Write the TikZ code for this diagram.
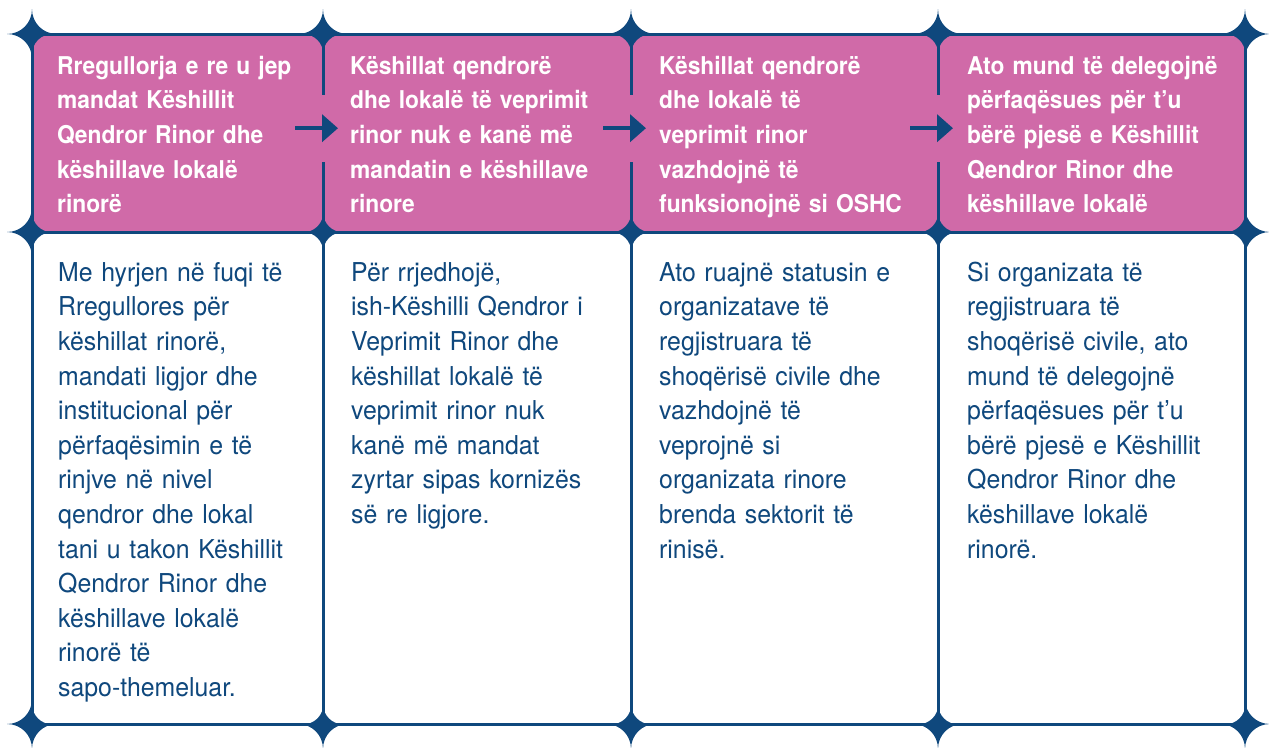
\documentclass[tikz,border=0pt]{standalone}
\usepackage{fontspec}
\setmainfont{TeX Gyre Heros}[UprightFeatures={FakeStretch=0.955},BoldFeatures={FakeStretch=0.93}]
\usetikzlibrary{arrows.meta}
\definecolor{navy}{RGB}{15,72,125}
\definecolor{rosa}{RGB}{208,106,168}

\begin{document}
\begin{tikzpicture}[x=1pt,y=-1pt,
    sparkle/.pic={\fill[navy] (25,0) .. controls (11,0) and (0,11) .. (0,25)
      .. controls (0,11) and (-11,0) .. (-25,0) .. controls (-11,0) and (0,-11) .. (0,-25)
      .. controls (0,-11) and (11,0) .. cycle;},
    cell/.style={anchor=north west,inner sep=0pt,rounded corners=20pt,minimum height=#1},
    headcell/.style={cell=198pt,fill=rosa},
    bodycell/.style={cell=492pt,fill=white},
    txt/.style={anchor=north west,inner sep=0pt,text height=0pt,align=left,text width=275pt},
    headtext/.style={txt,text=white,font=\bfseries\fontsize{24.5}{34.6}\selectfont},
    bodytext/.style={txt,text=navy,font=\fontsize{26}{34.6}\selectfont},
    frame/.style={navy,line width=3pt},
    flow/.style={navy,line width=4.5pt,-{Triangle[length=16pt,width=27pt]}}]
    \useasboundingbox (0,0) rectangle (1269,747);

    % stars at the crossings
    \foreach \x in {32,323,631,938,1245}
      \foreach \y in {34,232,724}
        \pic at (\x,\y) {sparkle};

    % cells
    \node[headcell,minimum width=291pt] (h1) at (32,34) {};
    \node[headcell,minimum width=308pt] (h2) at (323,34) {};
    \node[headcell,minimum width=307pt] (h3) at (631,34) {};
    \node[headcell,minimum width=307pt] (h4) at (938,34) {};
    \node[bodycell,minimum width=291pt] (b1) at (32,232) {};
    \node[bodycell,minimum width=308pt] (b2) at (323,232) {};
    \node[bodycell,minimum width=307pt] (b3) at (631,232) {};
    \node[bodycell,minimum width=307pt] (b4) at (938,232) {};

    % frame
    \draw[frame] (h1.north west) -- (h4.north east);
    \draw[frame] (b1.north west) -- (b4.north east);
    \draw[frame] (b1.south west) -- (b4.south east);
    \draw[frame] (h1.north west) -- (b1.south west);
    \draw[frame] (h4.north east) -- (b4.south east);
    \foreach \n/\m in {1/2,2/3,3/4} {
      \draw[frame] (h\n.north east) -- ([yshift=-61pt]h\n.north east);
      \draw[frame] ([yshift=-128pt]h\n.north east) -- (b\n.south east);
      \draw[flow] ([xshift=-28pt,yshift=5pt]h\n.east) -- ([xshift=15pt,yshift=5pt]h\m.west);
    }

    % texts
    \node[headtext] (th1) at ([shift={(25,40)}]h1.north west)
      {Rregullorja e re u jep\\mandat Këshillit\\Qendror Rinor dhe\\këshillave lokalë\\rinorë};
    \node[headtext] (th2) at ([shift={(27,40)}]h2.north west)
      {Këshillat qendrorë\\dhe lokalë të veprimit\\rinor nuk e kanë më\\mandatin e këshillave\\rinore};
    \node[headtext] (th3) at ([shift={(28,40)}]h3.north west)
      {Këshillat qendrorë\\dhe lokalë të\\veprimit rinor\\vazhdojnë të\\funksionojnë si OSHC};
    \node[headtext] (th4) at ([shift={(29,40)}]h4.north west)
      {Ato mund të delegojnë\\përfaqësues për t’u\\bërë pjesë e Këshillit\\Qendror Rinor dhe\\këshillave lokalë};
    \node[bodytext] (tb1) at ([shift={(26,49)}]b1.north west)
      {Me hyrjen në fuqi të\\Rregullores për\\këshillat rinorë,\\mandati ligjor dhe\\institucional për\\përfaqësimin e të\\rinjve në nivel\\qendror dhe lokal\\tani u takon Këshillit\\Qendror Rinor dhe\\këshillave lokalë\\rinorë të\\sapo-themeluar.};
    \node[bodytext] (tb2) at ([shift={(28,49)}]b2.north west)
      {Për rrjedhojë,\\ish-Këshilli Qendror i\\Veprimit Rinor dhe\\këshillat lokalë të\\veprimit rinor nuk\\kanë më mandat\\zyrtar sipas kornizës\\së re ligjore.};
    \node[bodytext] (tb3) at ([shift={(28,49)}]b3.north west)
      {Ato ruajnë statusin e\\organizatave të\\regjistruara të\\shoqërisë civile dhe\\vazhdojnë të\\veprojnë si\\organizata rinore\\brenda sektorit të\\rinisë.};
    \node[bodytext] (tb4) at ([shift={(29,49)}]b4.north west)
      {Si organizata të\\regjistruara të\\shoqërisë civile, ato\\mund të delegojnë\\përfaqësues për t’u\\bërë pjesë e Këshillit\\Qendror Rinor dhe\\këshillave lokalë\\rinorë.};
\end{tikzpicture}
\end{document}
